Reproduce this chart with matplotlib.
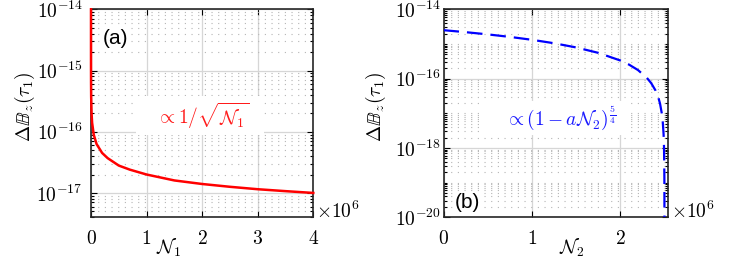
import math
import matplotlib
matplotlib.use("Agg")
import matplotlib.pyplot as plt
from matplotlib.ticker import FixedLocator, FuncFormatter, LogLocator, NullLocator, NullFormatter

plt.rcParams["mathtext.fontset"] = "cm"
plt.rcParams["font.family"] = ["Liberation Sans", "DejaVu Sans"]

# panel (a): N1 in units of 1e6
n1 = [0.000004, 0.00001, 0.00004, 0.0001, 0.0004, 0.001, 0.003, 0.01, 0.02, 0.05,
      0.1, 0.2, 0.3, 0.5, 0.7, 1.0, 1.5, 2.0, 2.5, 3.0, 3.5, 4.0]
db1 = [1.0e-14, 6.3e-15, 3.2e-15, 2.0e-15, 1.0e-15, 6.3e-16, 3.7e-16, 2.0e-16, 1.4e-16, 8.9e-17,
       6.3e-17, 4.5e-17, 3.7e-17, 2.8e-17, 2.4e-17, 2.0e-17, 1.6e-17, 1.4e-17, 1.26e-17, 1.15e-17, 1.07e-17, 1.0e-17]

# panel (b): N2 in units of 1e6
n2 = [0.0, 0.25, 0.5, 0.75, 1.0, 1.25, 1.5, 1.75, 2.0, 2.1, 2.2, 2.3, 2.35, 2.4,
      2.43, 2.45, 2.47, 2.48, 2.49, 2.495, 2.499, 2.4999]
db2 = [2.5e-15, 2.19e-15, 1.89e-15, 1.6e-15, 1.32e-15, 1.05e-15, 7.95e-16, 5.55e-16, 3.34e-16, 2.53e-16,
       1.77e-16, 1.06e-16, 7.4e-17, 4.5e-17, 2.9e-17, 1.9e-17, 9.9e-18, 6.0e-18, 2.5e-18, 1.06e-18, 1.4e-19, 8e-21]

xticks_a = [0, 1, 2, 3, 4]
xticks_b = [0, 1, 2]
yticks_a = [1e-17, 1e-16, 1e-15, 1e-14]
yticks_b = [1e-20, 1e-18, 1e-16, 1e-14]

fig = plt.figure(figsize=(7.3, 2.58), dpi=100, facecolor="white")
ax1 = fig.add_axes([91 / 730, 40.7 / 258, 222.3 / 730, 208 / 258])
ax2 = fig.add_axes([443.5 / 730, 40.7 / 258, 224.5 / 730, 208 / 258])

ax1.plot(n1, db1, color="#ff0000", lw=1.8, zorder=5, clip_on=False)
ax2.plot(n2, db2, color="#0000ff", lw=1.6, dashes=(7, 3.6), zorder=5)

ax1.set_xlim(0, 4)
ax1.set_ylim(4e-18, 1e-14)
ax2.set_xlim(0, 2.54)
ax2.set_ylim(1e-20, 1e-14)

exp_fmt = FuncFormatter(lambda v, p: r"$10^{%d}$" % round(math.log10(v)))
int_fmt = FuncFormatter(lambda v, p: r"$%d$" % round(v))

for ax, xt, yt, pad in [(ax1, xticks_a, yticks_a, 6), (ax2, xticks_b, yticks_b, 2)]:
    ax.set_yscale("log")
    ax.xaxis.set_major_locator(FixedLocator(xt))
    ax.yaxis.set_major_locator(FixedLocator(yt))
    ax.yaxis.set_minor_locator(LogLocator(base=10, subs=range(1, 10), numticks=100))
    ax.yaxis.set_minor_formatter(NullFormatter())
    ax.xaxis.set_minor_locator(NullLocator())
    ax.xaxis.set_major_formatter(int_fmt)
    ax.yaxis.set_major_formatter(exp_fmt)
    ax.tick_params(which="both", direction="in", top=True, right=True, labelsize=14, width=0.8)
    ax.tick_params(which="major", length=4)
    ax.tick_params(which="minor", length=2.5)
    ax.tick_params(axis="y", pad=pad)
    ax.tick_params(axis="x", pad=9)
    ax.grid(True, which="major", color="#d6d6d6", lw=0.9)
    ax.grid(True, which="minor", axis="y", color="#b5b5b5", lw=0.8, linestyle=(0, (1, 5)))
    for s in ax.spines.values():
        s.set_linewidth(1.2)
        s.set_color("#262626")
        s.set_zorder(4)
    ax.set_axisbelow(True)
    ax.set_ylabel(r"$\Delta\mathbb{B}_z(\tau_1)$", fontsize=14)
    ax.yaxis.set_label_coords(-0.245, 0.53)
    ax.text(1.012, 0.028, r"$\times10^{6}$", transform=ax.transAxes, fontsize=14,
            ha="left", va="center")

ax1.set_xlabel(r"$\mathcal{N}_1$", fontsize=14)
ax2.set_xlabel(r"$\mathcal{N}_2$", fontsize=14)
ax1.xaxis.set_label_coords(0.35, -0.095)
ax2.xaxis.set_label_coords(0.57, -0.095)

ax1.text(0.49, 0.49, r"   $\propto 1/\sqrt{\mathcal{N}_1}$   ", transform=ax1.transAxes,
         color="#ff1a1a", fontsize=14, ha="center", va="center", zorder=2,
         bbox=dict(facecolor="white", edgecolor="none", pad=3))
ax2.text(0.49, 0.478, r"    $\propto(1-a\mathcal{N}_2)^{\frac{5}{4}}$  ", transform=ax2.transAxes,
         color="#1a1aff", fontsize=14, ha="center", va="center", zorder=2,
         bbox=dict(facecolor="white", edgecolor="none", pad=2))

ax1.text(0.108, 0.862, "(a)", transform=ax1.transAxes, fontsize=15, ha="center", va="center",
         zorder=2, bbox=dict(facecolor="white", edgecolor="none", pad=1))
ax2.text(0.105, 0.07, "(b)", transform=ax2.transAxes, fontsize=15, ha="center", va="center",
         zorder=2, bbox=dict(facecolor="white", edgecolor="none", pad=1))

fig.savefig("out.png", dpi=100, facecolor="white")
